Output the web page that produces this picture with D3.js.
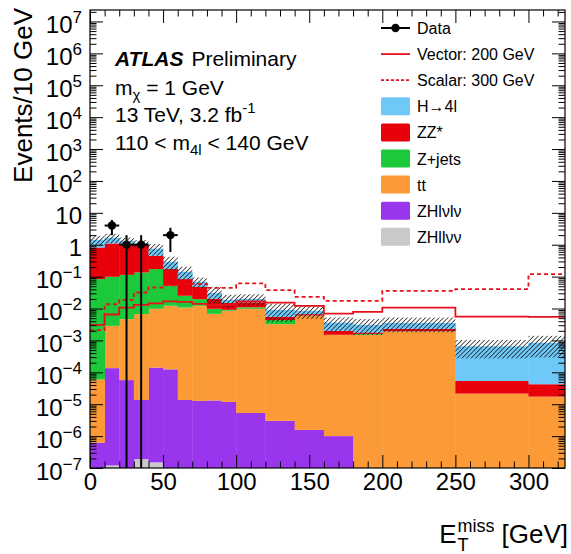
<!DOCTYPE html>
<html>
<head>
<meta charset="utf-8">
<script src="https://cdn.jsdelivr.net/npm/d3@7"></script>
<style>
  body { margin: 0; background: #fff; }
  text { font-family: "Liberation Sans", Arial, Helvetica, sans-serif; fill: #000; }
</style>
</head>
<body>
<div id="chart"></div>
<script>
// bin edges in GeV
var binEdges = [0, 10, 20, 30, 40, 50, 60, 70, 80, 90, 100, 120, 140, 160, 180, 200, 250, 300, 325];

// background samples, events / 10 GeV
var zhllvv = [0, 1.2e-7, 0, 1.9e-7, 1.5e-7, 0, 0, 0, 0, 0, 0, 0, 0, 0, 0, 0, 0, 0];
var zhlvlv = [6.2e-7, 1.35e-4, 5.7e-5, 1.34e-5, 1.4e-4, 1.24e-4, 1.36e-5, 1.27e-5, 1.31e-5, 1.18e-5, 5.3e-6, 3.0e-6, 1.56e-6, 1.0e-6, 0, 0, 0, 0];
var ttbar  = [5.9e-5, 2.72e-3, 4.59e-3, 6.66e-3, 9.66e-3, 1.21e-2, 1.07e-2, 1.22e-2, 6.8e-3, 8.5e-3, 9.8e-3, 3.24e-3, 5.9e-3, 1.5e-3, 1.5e-3, 1.9e-3, 2.15e-5, 1.73e-5];
var zjets  = [0.0836, 0.096, 0.109, 0.128, 0.163, 0.0393, 0.0144, 0.0075, 0.0030, 0.0006, 0.0011, 0.0011, 0.0001, 0, 0.0001, 0.00003, 0, 0];
var zzstar = [0.738, 0.998, 0.983, 0.863, 0.278, 0.1215, 0.0586, 0.0283, 0.0103, 0.0060, 0.0048, 0.00115, 0.00067, 0.0005, 0.00018, 0.00038, 3.2e-5, 2.5e-5];
var h4l    = [0.61, 0.56, 0.23, 0.11, 0.30, 0.119, 0.058, 0.021, 0.011, 0.0036, 0.0044, 0.0036, 0.0018, 0.0016, 0.0013, 0.0012, 6.0e-4, 8.0e-4];
var bkgErr = [0.48, 0.55, 0.36, 0.29, 0.30, 0.128, 0.062, 0.025, 0.017, 0.0082, 0.0078, 0.0053, 0.0037, 0.0017, 0.0016, 0.0017, 3.8e-4, 5.5e-4];

// signals
var vector200 = [3.08e-3, 6.49e-3, 1.07e-2, 1.31e-2, 1.46e-2, 1.68e-2, 1.62e-2, 1.40e-2, 1.31e-2, 1.31e-2, 1.68e-2, 1.54e-2, 1.22e-2, 6.97e-3, 7.87e-3, 1.07e-2, 5.61e-3, 5.48e-3];
var scalar300 = [2.10e-3, 1.36e-2, 1.87e-2, 3.18e-2, 4.56e-2, 5.35e-2, 5.96e-2, 5.96e-2, 4.47e-2, 4.47e-2, 6.18e-2, 3.78e-2, 2.33e-2, 1.75e-2, 1.75e-2, 3.60e-2, 4.06e-2, 0.120];

// data
var dataX = [15, 25, 35, 55];
var dataY = [4, 1, 1, 2];
var dataErrLo = [2, 1, 1, 1.41];
var dataErrHi = [2, 1, 1, 1.41];
var dataHalfWidth = 5;

var xTicks = [0, 50, 100, 150, 200, 250, 300];
var legendLabels = ["Data", "Vector: 200 GeV", "Scalar: 300 GeV", "H\u21924l", "ZZ*", "Z+jets", "tt", "ZHl\u03bdl\u03bd", "ZHll\u03bd\u03bd"];

var sampleKeys = ["ZHllvv", "ZHlvlv", "tt", "Zjets", "ZZ", "H4l"];
var colors = {
  H4l: "#6ec8f8", ZZ: "#e8000b", Zjets: "#1cc93a",
  tt: "#fb9a36", ZHlvlv: "#9a35ee", ZHllvv: "#c9c9c9"
};
var sigColor = "#e8101a";

var W = 571, H = 554;
var margin = {top: 10, right: 6, bottom: 86, left: 90};
var width = W - margin.left - margin.right,
    height = H - margin.top - margin.bottom;

var svg = d3.select("#chart").append("svg")
    .attr("width", W)
    .attr("height", H);

var defs = svg.append("defs");
defs.append("clipPath").attr("id", "plotclip")
  .append("rect").attr("width", width).attr("height", height);
var pat = defs.append("pattern")
    .attr("id", "hatch")
    .attr("patternUnits", "userSpaceOnUse")
    .attr("width", 3.2).attr("height", 3.2)
    .attr("patternTransform", "rotate(45)");
pat.append("line")
    .attr("x1", 0).attr("y1", 0).attr("x2", 0).attr("y2", 3.2)
    .attr("stroke", "#111").attr("stroke-width", 1.4);

var g = svg.append("g")
    .attr("transform", "translate(" + margin.left + "," + margin.top + ")");

var x = d3.scaleLinear().domain([0, 325]).range([0, width]);
var y = d3.scaleLog().domain([1e-7, Math.pow(10, 7.36)]).range([height, 0]);
function yc(v) { return v > 1e-7 ? y(v) : height; }

// stacked backgrounds
var rows = binEdges.slice(0, -1).map(function(lo, i) {
  return {lo: lo, hi: binEdges[i + 1],
    ZHllvv: zhllvv[i], ZHlvlv: zhlvlv[i], tt: ttbar[i],
    Zjets: zjets[i], ZZ: zzstar[i], H4l: h4l[i]};
});
var stacked = d3.stack().keys(sampleKeys)(rows);

var plot = g.append("g").attr("clip-path", "url(#plotclip)");

stacked.forEach(function(layer) {
  plot.append("g").selectAll("rect")
    .data(layer.filter(function(d) { return d[1] - d[0] > 0; }))
    .enter().append("rect")
      .attr("x", function(d) { return x(d.data.lo); })
      .attr("width", function(d) { return x(d.data.hi) - x(d.data.lo) + 0.4; })
      .attr("y", function(d) { return yc(d[1]); })
      .attr("height", function(d) { return yc(d[0]) - yc(d[1]); })
      .attr("fill", colors[layer.key]);
});

// uncertainty band
var totals = stacked[stacked.length - 1];
plot.append("g").selectAll("rect")
  .data(totals)
  .enter().append("rect")
    .attr("x", function(d) { return x(d.data.lo); })
    .attr("width", function(d) { return x(d.data.hi) - x(d.data.lo); })
    .attr("y", function(d, i) { return yc(d[1] + bkgErr[i]); })
    .attr("height", function(d, i) { return yc(d[1] - bkgErr[i]) - yc(d[1] + bkgErr[i]); })
    .attr("fill", "url(#hatch)");

// signal step lines
function stepPoints(vals) {
  var pts = vals.map(function(v, i) { return [binEdges[i], v]; });
  pts.push([binEdges[binEdges.length - 1], vals[vals.length - 1]]);
  return pts;
}
var step = d3.line()
    .x(function(d) { return x(d[0]); })
    .y(function(d) { return yc(d[1]); })
    .curve(d3.curveStepAfter);

plot.append("path")
    .attr("d", step(stepPoints(vector200)))
    .attr("fill", "none").attr("stroke", sigColor).attr("stroke-width", 1.8);
plot.append("path")
    .attr("d", step(stepPoints(scalar300)))
    .attr("fill", "none").attr("stroke", sigColor).attr("stroke-width", 1.8)
    .attr("stroke-dasharray", "4,3");

// data points
var pts = plot.append("g");
dataX.forEach(function(xv, i) {
  var v = dataY[i];
  pts.append("line")
    .attr("x1", x(xv)).attr("x2", x(xv))
    .attr("y1", yc(v + dataErrHi[i])).attr("y2", yc(v - dataErrLo[i]))
    .attr("stroke", "#000").attr("stroke-width", 2);
  pts.append("line")
    .attr("x1", x(xv - dataHalfWidth)).attr("x2", x(xv + dataHalfWidth))
    .attr("y1", y(v)).attr("y2", y(v))
    .attr("stroke", "#000").attr("stroke-width", 2);
  pts.append("circle")
    .attr("cx", x(xv)).attr("cy", y(v)).attr("r", 4.2)
    .attr("fill", "#000");
});

// axes
var yMajor = d3.range(-7, 8).map(function(e) { return Math.pow(10, e); });
var yMinor = [];
d3.range(-7, 8).forEach(function(e) {
  for (var k = 2; k <= 9; k++) {
    var v = k * Math.pow(10, e);
    if (v < y.domain()[1]) yMinor.push(v);
  }
});
var xMinor = d3.range(10, 325, 10).filter(function(v) { return v % 50 !== 0; });

function clean(sel) { sel.select(".domain").remove(); sel.selectAll("line").attr("stroke", "#000"); }

var yAx = g.append("g")
    .call(d3.axisLeft(y).tickValues(yMajor).tickSizeInner(-13).tickSizeOuter(0).tickPadding(8))
    .call(clean);
yAx.selectAll(".tick text").each(function(d) {
  var e = Math.round(Math.log10(d));
  var t = d3.select(this).text(null).attr("dy", null).attr("y", 11)
      .style("font-size", "24px");
  if (e === 0) t.text("1");
  else if (e === 1) t.text("10");
  else {
    t.append("tspan").text("10");
    t.append("tspan").attr("dy", -10).style("font-size", "17px")
      .text(e < 0 ? "\u2212" + (-e) : e);
  }
});
g.append("g")
    .call(d3.axisLeft(y).tickValues(yMinor).tickSizeInner(-6.5).tickSizeOuter(0).tickFormat(""))
    .call(clean);
g.append("g").attr("transform", "translate(" + width + ",0)")
    .call(d3.axisRight(y).tickValues(yMajor).tickSizeInner(-13).tickSizeOuter(0).tickFormat(""))
    .call(clean);
g.append("g").attr("transform", "translate(" + width + ",0)")
    .call(d3.axisRight(y).tickValues(yMinor).tickSizeInner(-6.5).tickSizeOuter(0).tickFormat(""))
    .call(clean);

var xAx = g.append("g").attr("transform", "translate(0," + height + ")")
    .call(d3.axisBottom(x).tickValues(xTicks).tickSizeInner(-13).tickSizeOuter(0).tickPadding(5))
    .call(clean);
xAx.selectAll(".tick text").style("font-size", "24px");
g.append("g").attr("transform", "translate(0," + height + ")")
    .call(d3.axisBottom(x).tickValues(xMinor).tickSizeInner(-6.5).tickSizeOuter(0).tickFormat(""))
    .call(clean);
g.append("g")
    .call(d3.axisTop(x).tickValues(xTicks).tickSizeInner(-13).tickSizeOuter(0).tickFormat(""))
    .call(clean);
g.append("g")
    .call(d3.axisTop(x).tickValues(xMinor).tickSizeInner(-6.5).tickSizeOuter(0).tickFormat(""))
    .call(clean);

// frame
g.append("rect")
    .attr("width", width).attr("height", height)
    .attr("fill", "none").attr("stroke", "#000").attr("stroke-width", 1.2);

// y title
svg.append("text")
    .attr("transform", "translate(32,8) rotate(-90)")
    .attr("text-anchor", "end")
    .style("font-size", "26px")
    .text("Events/10 GeV");

// x title: E_T^miss [GeV], right aligned
var xt = svg.append("g");
var eT = xt.append("text").attr("x", 0).attr("y", 0).style("font-size", "26px").text("E");
var wE = eT.node().getComputedTextLength();
var mT = xt.append("text").attr("x", wE + 1).attr("y", -11).style("font-size", "18px").text("miss");
xt.append("text").attr("x", wE + 1).attr("y", 8).style("font-size", "18px").text("T");
var wM = mT.node().getComputedTextLength();
var gT = xt.append("text").attr("x", wE + wM + 8).attr("y", 0).style("font-size", "26px").text("[GeV]");
var total = wE + wM + 8 + gT.node().getComputedTextLength();
xt.attr("transform", "translate(" + (568 - total) + ",543)");

// ATLAS label block
var tx = 115;
var atl = svg.append("text").attr("x", tx).attr("y", 66).style("font-size", "21px");
atl.append("tspan").style("font-weight", "bold").style("font-style", "italic").text("ATLAS");
atl.append("tspan").attr("dx", 8).text("Preliminary");

var l2 = svg.append("text").attr("x", tx).attr("y", 95).style("font-size", "21px");
l2.append("tspan").text("m");
l2.append("tspan").attr("dy", 5).style("font-size", "15px").text("\u03c7");
l2.append("tspan").attr("dy", -5).text(" = 1 GeV");

var l3 = svg.append("text").attr("x", tx).attr("y", 122).style("font-size", "21px");
l3.append("tspan").text("13 TeV, 3.2 fb");
l3.append("tspan").attr("dy", -9).style("font-size", "15px").text("-1");

var l4 = svg.append("text").attr("x", tx).attr("y", 150).style("font-size", "21px");
l4.append("tspan").text("110 < m");
l4.append("tspan").attr("dy", 5).style("font-size", "15px").text("4l");
l4.append("tspan").attr("dy", -5).text(" < 140 GeV");

// legend
var leg = svg.append("g");
var legX0 = 381, legX1 = 410, legText = 417;
legendLabels.forEach(function(lab, i) {
  var cy = 28 + i * 26.1;
  if (i === 0) {
    leg.append("line").attr("x1", legX0).attr("x2", legX1).attr("y1", cy).attr("y2", cy)
      .attr("stroke", "#000").attr("stroke-width", 2);
    leg.append("circle").attr("cx", (legX0 + legX1) / 2).attr("cy", cy).attr("r", 4.2).attr("fill", "#000");
  } else if (i === 1 || i === 2) {
    leg.append("line").attr("x1", legX0).attr("x2", legX1).attr("y1", cy).attr("y2", cy)
      .attr("stroke", sigColor).attr("stroke-width", 1.8)
      .attr("stroke-dasharray", i === 2 ? "3,2" : null);
  } else {
    var key = sampleKeys[sampleKeys.length - 1 - (i - 3)];
    leg.append("rect").attr("x", legX0).attr("y", cy - 9).attr("width", 29).attr("height", 18)
      .attr("rx", 1.5).attr("fill", colors[key]);
  }
  leg.append("text").attr("x", legText).attr("y", cy + 6).style("font-size", "16px").text(lab);
});
</script>
</body>
</html>
